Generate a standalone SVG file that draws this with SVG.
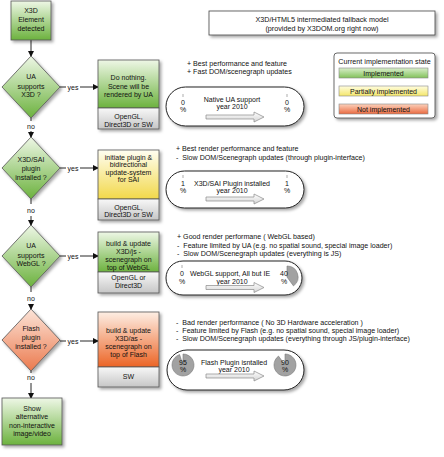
<svg xmlns="http://www.w3.org/2000/svg" width="444" height="457" viewBox="0 0 444 457">
<defs>
<linearGradient id="gGreen" x1="0" y1="0" x2="0" y2="1"><stop offset="0" stop-color="#eef7e6"/><stop offset="1" stop-color="#6cb23e"/></linearGradient>
<linearGradient id="gYellow" x1="0" y1="0" x2="0" y2="1"><stop offset="0" stop-color="#fffef2"/><stop offset="1" stop-color="#f2d84a"/></linearGradient>
<linearGradient id="gOrange" x1="0" y1="0" x2="0" y2="1"><stop offset="0" stop-color="#fdeee4"/><stop offset="1" stop-color="#ec6526"/></linearGradient>
<linearGradient id="gSalmon" x1="0" y1="0" x2="0" y2="1"><stop offset="0" stop-color="#fce4d8"/><stop offset="1" stop-color="#eb7a4e"/></linearGradient>
<linearGradient id="gGrey" x1="0" y1="0" x2="0" y2="1"><stop offset="0" stop-color="#f8f8f8"/><stop offset="1" stop-color="#c6c6c6"/></linearGradient>
<linearGradient id="gLGreen" x1="0" y1="0" x2="0" y2="1"><stop offset="0" stop-color="#d9eecb"/><stop offset="1" stop-color="#82c25a"/></linearGradient>
<linearGradient id="gLYellow" x1="0" y1="0" x2="0" y2="1"><stop offset="0" stop-color="#fffde0"/><stop offset="1" stop-color="#f4e66a"/></linearGradient>
<linearGradient id="gLRed" x1="0" y1="0" x2="0" y2="1"><stop offset="0" stop-color="#fcd2bd"/><stop offset="1" stop-color="#ea6a40"/></linearGradient>
<linearGradient id="gArrow" x1="0" y1="0" x2="0" y2="1"><stop offset="0" stop-color="#ffffff"/><stop offset="1" stop-color="#d4d4d4"/></linearGradient>
<filter id="sh" x="-20%" y="-20%" width="150%" height="150%"><feDropShadow dx="2" dy="2" stdDeviation="1.5" flood-color="#000" flood-opacity="0.35"/></filter>
<marker id="ah" markerWidth="6" markerHeight="6" refX="5" refY="3" orient="auto" markerUnits="userSpaceOnUse"><path d="M0,0 L6,3 L0,6 Z" fill="#111"/></marker>
<style>
text{font-family:"Liberation Sans",Arial,Helvetica,sans-serif;fill:#111;}
.c{text-anchor:middle;font-size:7px;}
.s{font-size:7.1px;white-space:pre;}
.box{stroke:#555;stroke-width:0.8;}
.line{stroke:#111;stroke-width:0.9;fill:none;}
.cap{fill:#fff;stroke:#222;stroke-width:1;}
.bar{stroke:#888;stroke-width:0.6;}
.pie{fill:#a2a2a2;stroke:#7a7a7a;stroke-width:0.6;}
.barr{fill:url(#gArrow);stroke:#8a8a8a;stroke-width:0.7;}
</style>
</defs>
<rect width="444" height="457" fill="#fff"/>

<g id="connectors">
<line class="line" x1="31" y1="40" x2="31" y2="56" marker-end="url(#ah)"/>
<line class="line" x1="60" y1="87" x2="66" y2="87"/><text class="c" x="73" y="89.5">yes</text><line class="line" x1="80" y1="87" x2="98" y2="87" marker-end="url(#ah)"/>
<line class="line" x1="31" y1="118" x2="31" y2="121"/><text class="c" x="31" y="128.5">no</text><line class="line" x1="31" y1="131" x2="31" y2="137" marker-end="url(#ah)"/>
<line class="line" x1="60" y1="168" x2="66" y2="168"/><text class="c" x="73" y="170.5">yes</text><line class="line" x1="80" y1="168" x2="98" y2="168" marker-end="url(#ah)"/>
<line class="line" x1="31" y1="199" x2="31" y2="204"/><text class="c" x="31" y="212.5">no</text><line class="line" x1="31" y1="216" x2="31" y2="225" marker-end="url(#ah)"/>
<line class="line" x1="60" y1="256" x2="66" y2="256"/><text class="c" x="73" y="258.5">yes</text><line class="line" x1="80" y1="256" x2="98" y2="256" marker-end="url(#ah)"/>
<line class="line" x1="31" y1="287" x2="31" y2="292"/><text class="c" x="31" y="300.5">no</text><line class="line" x1="31" y1="304" x2="31" y2="309" marker-end="url(#ah)"/>
<line class="line" x1="60" y1="341" x2="66" y2="341"/><text class="c" x="73" y="343.5">yes</text><line class="line" x1="80" y1="341" x2="98" y2="341" marker-end="url(#ah)"/>
<line class="line" x1="31" y1="371" x2="31" y2="373"/><text class="c" x="31" y="379.5">no</text><line class="line" x1="31" y1="383" x2="31" y2="398" marker-end="url(#ah)"/>
</g>

<g id="n-start">
<rect class="box" x="11" y="1" width="40" height="39" fill="url(#gGreen)" filter="url(#sh)"/>
<text class="c" x="31" y="12.5">X3D</text><text class="c" x="31" y="21.5">Element</text><text class="c" x="31" y="30.5">detected</text>
</g>

<g id="n-d1">
<polygon class="box" points="31,56 60,87 31,118 2,87" fill="url(#gGreen)" filter="url(#sh)"/>
<text class="c" x="31" y="78.5">UA</text><text class="c" x="31" y="88.5">supports</text><text class="c" x="31" y="97">X3D ?</text>
</g>
<g id="n-d2">
<polygon class="box" points="31,137 60,168 31,199 2,168" fill="url(#gGreen)" filter="url(#sh)"/>
<text class="c" x="31" y="161.5">X3D/SAI</text><text class="c" x="31" y="170.5">plugin</text><text class="c" x="31" y="179.5">installed ?</text>
</g>
<g id="n-d3">
<polygon class="box" points="31,225 60,256 31,287 2,256" fill="url(#gGreen)" filter="url(#sh)"/>
<text class="c" x="31" y="247.5">UA</text><text class="c" x="31" y="257.5">supports</text><text class="c" x="31" y="266">WebGL ?</text>
</g>
<g id="n-d4">
<polygon class="box" points="31,309 60,340 31,371 2,340" fill="url(#gSalmon)" filter="url(#sh)"/>
<text class="c" x="31" y="330.5">Flash</text><text class="c" x="31" y="339.5">plugin</text><text class="c" x="31" y="348.5">installed ?</text>
</g>

<g id="n-a1">
<g filter="url(#sh)"><rect class="box" x="98" y="60" width="61" height="48" fill="url(#gGreen)"/><rect class="box" x="98" y="108" width="61" height="21" fill="url(#gGrey)"/></g>
<text class="c" x="128.5" y="79.5">Do nothing.</text><text class="c" x="128.5" y="88.5">Scene will be</text><text class="c" x="128.5" y="97">rendered by UA</text>
<text class="c" x="128.5" y="118.5">OpenGL,</text><text class="c" x="128.5" y="126.5">Direct3D or SW</text>
</g>
<g id="n-a2">
<g filter="url(#sh)"><rect class="box" x="98" y="150" width="61" height="49" fill="url(#gYellow)"/><rect class="box" x="98" y="199" width="61" height="21" fill="url(#gGrey)"/></g>
<text class="c" x="128.5" y="159.5">initiate plugin &amp;</text><text class="c" x="128.5" y="167">bidirectional</text><text class="c" x="128.5" y="174.5">update-system</text><text class="c" x="128.5" y="182">for SAI</text>
<text class="c" x="128.5" y="209.5">OpenGL,</text><text class="c" x="128.5" y="217">Direct3D or SW</text>
</g>
<g id="n-a3">
<g filter="url(#sh)"><rect class="box" x="98" y="232" width="61" height="40" fill="url(#gGreen)"/><rect class="box" x="98" y="272" width="61" height="21" fill="url(#gGrey)"/></g>
<text class="c" x="128.5" y="245.5">build &amp; update</text><text class="c" x="128.5" y="253.5">X3D/js -</text><text class="c" x="128.5" y="261.5">scenegraph on</text><text class="c" x="128.5" y="269.5">top of WebGL</text>
<text class="c" x="128.5" y="280">OpenGL or</text><text class="c" x="128.5" y="287.5">Direct3D</text>
</g>
<g id="n-a4">
<g filter="url(#sh)"><rect class="box" x="98" y="312" width="61" height="55" fill="url(#gOrange)"/><rect class="box" x="98" y="367" width="61" height="20" fill="url(#gGrey)"/></g>
<text class="c" x="128.5" y="332.5">build &amp; update</text><text class="c" x="128.5" y="340.5">X3D/as -</text><text class="c" x="128.5" y="348.5">scenegraph on</text><text class="c" x="128.5" y="357">top of Flash</text>
<text class="c" x="128.5" y="379">SW</text>
</g>

<g id="n-end">
<rect class="box" x="2" y="398" width="60" height="47" fill="url(#gGreen)" filter="url(#sh)"/>
<text class="c" x="32" y="410.5">Show</text><text class="c" x="32" y="419">alternative</text><text class="c" x="32" y="427.5">non-interactive</text><text class="c" x="32" y="436">image/video</text>
</g>

<g id="n-title">
<rect x="209" y="11" width="226" height="24" fill="#fff" stroke="#444" stroke-width="0.8" filter="url(#sh)"/>
<text class="c" x="322" y="21.5" style="font-size:7.2px">X3D/HTML5 intermediated fallback model</text>
<text class="c" x="322" y="30.5" style="font-size:7.2px">(provided by X3DOM.org right now)</text>
</g>

<g id="n-legend">
<rect x="334" y="53" width="101" height="65" rx="3" fill="#fff" stroke="#444" stroke-width="0.8" filter="url(#sh)"/>
<text class="c" x="384.5" y="63.5" style="font-size:7.2px">Current implementation state</text>
<rect class="bar" x="339" y="68" width="89" height="10" fill="url(#gLGreen)"/><text class="c" x="383.5" y="75.5">Implemented</text>
<rect class="bar" x="339" y="86" width="89" height="10" fill="url(#gLYellow)"/><text class="c" x="383.5" y="93.5">Partially implemented</text>
<rect class="bar" x="339" y="104" width="89" height="10" fill="url(#gLRed)"/><text class="c" x="383.5" y="111.5">Not implemented</text>
</g>

<g id="n-p1">
<text class="s" x="187" y="65.5">+ Best performance and feature</text>
<text class="s" x="187" y="73.5">+ Fast DOM/scenegraph updates</text>
</g>
<g id="n-c1">
<rect class="cap" x="166" y="87" width="138" height="39" rx="19.5" filter="url(#sh)"/>
<line x1="183" y1="94" x2="183" y2="97" stroke="#777" stroke-width="0.6"/>
<line x1="287" y1="94" x2="287" y2="97" stroke="#777" stroke-width="0.6"/>
<text class="c" x="183" y="104.5">0</text><text class="c" x="183" y="111.5">%</text>
<text class="c" x="287" y="104.5">0</text><text class="c" x="287" y="111.5">%</text>
<text class="c" x="232" y="101.5">Native UA support</text><text class="c" x="232" y="108.5">year 2010</text>
<polygon class="barr" points="206,115 254,115 254,112 264,117 254,122 254,119 206,119"/>
</g>

<g id="n-p2">
<text class="s" x="176" y="150.5">+ Best render performance and feature</text>
<text class="s" x="176" y="159.5">-  Slow DOM/Scenegraph updates (through plugin-interface)</text>
</g>
<g id="n-c2">
<rect class="cap" x="166" y="171" width="138" height="37" rx="18.5" filter="url(#sh)"/>
<line x1="183" y1="175" x2="183" y2="178" stroke="#777" stroke-width="0.6"/>
<line x1="287" y1="175" x2="287" y2="178" stroke="#777" stroke-width="0.6"/>
<text class="c" x="183" y="185.5">1</text><text class="c" x="183" y="192.5">%</text>
<text class="c" x="287" y="185.5">1</text><text class="c" x="287" y="192.5">%</text>
<text class="c" x="232" y="185.5">X3D/SAI Plugin installed</text><text class="c" x="232" y="192.5">year 2010</text>
<polygon class="barr" points="206,197 254,197 254,194 264,199 254,204 254,201 206,201"/>
</g>

<g id="n-p3">
<text class="s" x="177" y="238.5">+ Good render performane ( WebGL based)</text>
<text class="s" x="177" y="247.5">-  Feature limited by UA (e.g. no spatial sound, special image loader)</text>
<text class="s" x="177" y="255.5">-  Slow DOM/Scenegraph updates (everything is JS)</text>
</g>
<g id="n-c3">
<rect class="cap" x="166" y="261" width="136" height="34" rx="17" filter="url(#sh)"/>
<line x1="182" y1="265" x2="182" y2="268" stroke="#777" stroke-width="0.6"/>
<path class="pie" d="M287,277 L287,266 A11,11 0 0 1 293.47,285.9 Z"/>
<text class="c" x="182" y="275.5">0</text><text class="c" x="182" y="284">%</text>
<text class="c" x="284" y="275.5">40</text><text class="c" x="284" y="284">%</text>
<text class="c" x="230" y="275.5">WebGL support, All but IE</text><text class="c" x="232" y="284">year 2010</text>
<polygon class="barr" points="206,285.5 254,285.5 254,282.5 264,287.5 254,292.5 254,289.5 206,289.5"/>
</g>

<g id="n-p4">
<text class="s" x="176" y="324.5">-  Bad render performance ( No 3D Hardware acceleration )</text>
<text class="s" x="176" y="332.5">-  Feature limited by Flash (e.g. no spatial sound, special image loader)</text>
<text class="s" x="176" y="340.5">-  Slow DOM/Scenegraph updates (everything through JS/plugin-interface)</text>
</g>
<g id="n-c4">
<rect class="cap" x="167" y="350" width="137" height="40" rx="20" filter="url(#sh)"/>
<path class="pie" d="M183,365 L183,354 A11,11 0 1 1 179.6,354.54 Z"/>
<path class="pie" d="M285,365 L285,354 A11,11 0 1 1 278.53,356.1 Z"/>
<text class="c" x="183" y="364.5">95</text><text class="c" x="183" y="371.5">%</text>
<text class="c" x="285" y="364.5">90</text><text class="c" x="285" y="371.5">%</text>
<text class="c" x="234" y="364.5">Flash Plugin isntalled</text><text class="c" x="234" y="371.5">year 2010</text>
<polygon class="barr" points="206,374 254,374 254,371 264,376 254,381 254,378 206,378"/>
</g>
</svg>
